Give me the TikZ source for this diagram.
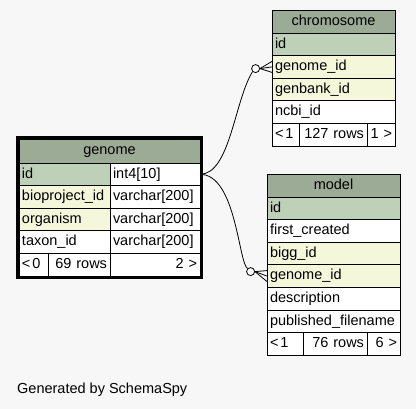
\documentclass[tikz,border=0pt]{standalone}
\usepackage{fontspec}
\setmainfont{Liberation Sans}
\usetikzlibrary{positioning,fit}
\definecolor{headcol}{HTML}{9BAB96}
\definecolor{pkcol}{HTML}{BED1B8}
\definecolor{fkcol}{HTML}{F4F7DA}
\definecolor{bgcol}{HTML}{F7F7F7}

\begin{document}
\begin{tikzpicture}
	 [scale =1]
	 \tikzset{node distance =0pt}
	\tikzstyle{cell}=[rectangle,draw=black,line width=0.8pt,fill=white,outer sep=0pt,minimum height=22.6pt,inner xsep=3.0pt,inner ysep=0pt,text height=10.5pt,text depth=3pt,align=left,font=\fontsize{14.5pt}{17pt}\selectfont]
	\tikzstyle{head}=[cell,fill=headcol,minimum height=23.0pt,align=center]
	\tikzstyle{pk}=[cell,fill=pkcol]
	\tikzstyle{fk}=[cell,fill=fkcol]
	\tikzstyle{zero}=[circle,draw=black,line width=0.8pt,fill=white,inner sep=0pt,minimum size=8.0pt]
	\tikzstyle{rel}=[line width=0.8pt]
	\fill [bgcol] (0 pt,0 pt) rectangle (416.0 pt,-409.0 pt);
	\useasboundingbox (0 pt,0 pt) rectangle (416.0 pt,-409.0 pt);
	% chromosome
	\node [head,anchor=north west,minimum width=123.0 pt] (chHead) at (272.0 pt,-10.0 pt) {chromosome};
	\node [pk,text width=117.0 pt,below=of chHead] (chId) {id};
	\node [fk,text width=117.0 pt,below=of chId] (chGenome) {genome\_id};
	\node [fk,text width=117.0 pt,below=of chGenome] (chGenbank) {genbank\_id};
	\node [cell,text width=117.0 pt,below=of chGenbank] (chNcbi) {ncbi\_id};
	\node [cell,text width=21.0 pt,anchor=north west] (chFoot1) at (chNcbi.south west) {<\kern2pt1};
	\node [cell,text width=62.0 pt,align=right,right=of chFoot1] (chFoot2) {127~rows};
	\node [cell,text width=22.0 pt,align=right,right=of chFoot2] (chFoot3) {1~>};
	% genome
	\node [head,anchor=north west,minimum width=181.0 pt,minimum height=24.0 pt] (gHead) at (19.0 pt,-139.0 pt) {genome};
	\node [pk,text width=85.0 pt,anchor=north west] (gId) at (gHead.south west) {id};
	\node [cell,text width=84.0 pt,right=of gId] (gIdType) {int4[10]};
	\node [fk,text width=85.0 pt,below=of gId] (gBio) {bioproject\_id};
	\node [cell,text width=84.0 pt,right=of gBio] (gBioType) {varchar[200]};
	\node [fk,text width=85.0 pt,below=of gBio] (gOrg) {organism};
	\node [cell,text width=84.0 pt,right=of gOrg] (gOrgType) {varchar[200]};
	\node [cell,text width=85.0 pt,below=of gOrg] (gTaxon) {taxon\_id};
	\node [cell,text width=84.0 pt,right=of gTaxon] (gTaxonType) {varchar[200]};
	\node [cell,text width=23.0 pt,anchor=north west] (gFoot1) at (gTaxon.south west) {<\kern2pt0};
	\node [cell,text width=56.0 pt,align=right,right=of gFoot1] (gFoot2) {69~rows};
	\node [cell,text width=84.0 pt,align=right,right=of gFoot2] (gFoot3) {2~>};
	\node [draw=black,line width=3.0pt,inner sep=1.5pt,fit=(gHead)(gFoot3)] (gFrame) {};
	% model
	\node [head,anchor=north west,minimum width=133.0 pt] (mHead) at (267.0 pt,-174.0 pt) {model};
	\node [pk,text width=127.0 pt,below=of mHead] (mId) {id};
	\node [cell,text width=127.0 pt,below=of mId] (mCreated) {first\_created};
	\node [fk,text width=127.0 pt,below=of mCreated] (mBigg) {bigg\_id};
	\node [fk,text width=127.0 pt,below=of mBigg] (mGenome) {genome\_id};
	\node [cell,text width=127.0 pt,below=of mGenome] (mDesc) {description};
	\node [cell,text width=127.0 pt,below=of mDesc] (mFile) {published\_filename};
	\node [cell,text width=30.0 pt,anchor=north west] (mFoot1) at (mFile.south west) {<\kern2pt1};
	\node [cell,text width=58.0 pt,align=right,right=of mFoot1] (mFoot2) {76~rows};
	\node [cell,text width=27.0 pt,align=right,right=of mFoot2] (mFoot3) {6~>};
	% relations
	\node [zero,left=12.0 pt of chGenome.west,yshift=-1.7pt] (zc1) {};
	\node [zero,left=12.0 pt of mGenome.west,yshift=4.5pt] (zc2) {};
	\draw [rel] (gIdType.east) .. controls +(30.0 pt,0 pt) and +(-18.0 pt,-29.0 pt) .. (zc1.south west);
	\draw [rel] (gIdType.east) .. controls +(36.0 pt,0 pt) and +(-9.0 pt,6.0 pt) .. (zc2.north west);
	\draw [rel] (zc1.east) -- (chGenome.west);
	\draw [rel] (zc1.east) -- ([yshift=5.5pt]chGenome.west);
	\draw [rel] (zc1.east) -- ([yshift=-5.5pt]chGenome.west);
	\draw [rel] (zc2.east) -- (mGenome.west);
	\draw [rel] (zc2.east) -- ([yshift=5.5pt]mGenome.west);
	\draw [rel] (zc2.east) -- ([yshift=-5.5pt]mGenome.west);
	\node [anchor=base west,inner sep=0pt,font=\fontsize{14.5pt}{17pt}\selectfont] (gen) at (17.0 pt,-394.0 pt) {Generated by SchemaSpy};
\end{tikzpicture}
\end{document}
